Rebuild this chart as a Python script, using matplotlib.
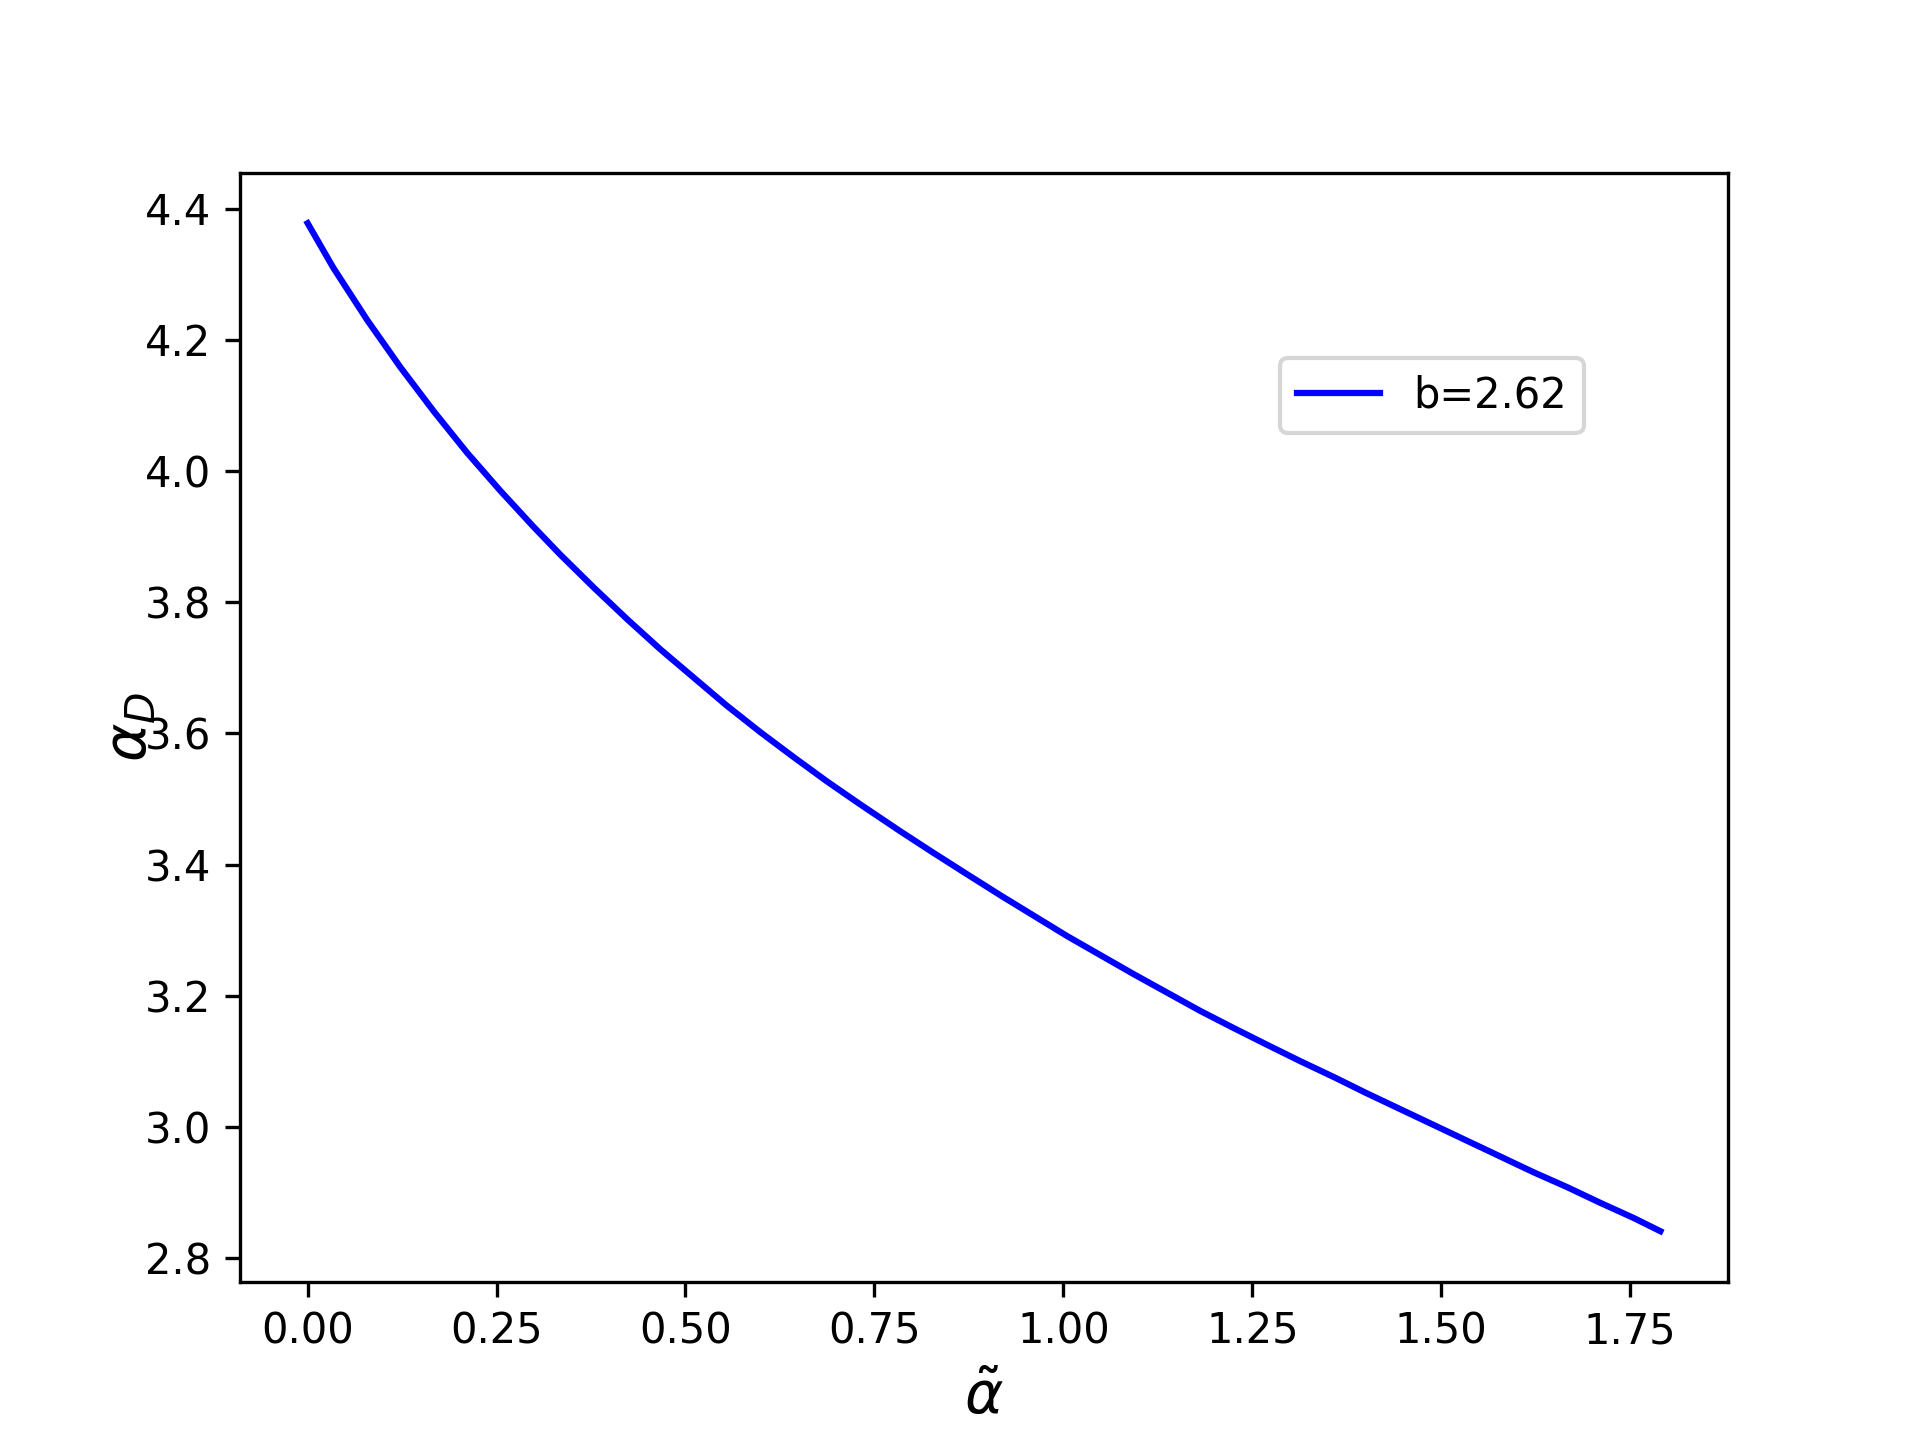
import matplotlib
matplotlib.use("Agg")
import matplotlib.pyplot as plt

# data -----------------------------------------------------
alpha_tilde = [0.000, 0.034, 0.079, 0.123, 0.167, 0.211, 0.255, 0.299, 0.334,
               0.379, 0.423, 0.467, 0.511, 0.555, 0.599, 0.643, 0.687, 0.731,
               0.784, 0.828, 0.873, 0.917, 0.961, 1.005, 1.049, 1.093, 1.137,
               1.181, 1.225, 1.270, 1.314, 1.358, 1.402, 1.446, 1.490, 1.534,
               1.578, 1.622, 1.667, 1.711, 1.755, 1.790]
alpha_D = [4.378, 4.310, 4.230, 4.158, 4.091, 4.028, 3.970, 3.915, 3.873,
           3.822, 3.774, 3.728, 3.685, 3.642, 3.602, 3.564, 3.527, 3.492,
           3.451, 3.418, 3.385, 3.353, 3.322, 3.291, 3.262, 3.233, 3.205,
           3.177, 3.151, 3.125, 3.100, 3.076, 3.051, 3.027, 3.003, 2.979,
           2.955, 2.931, 2.908, 2.884, 2.861, 2.841]
LABEL = "b=2.62"

# plot ----------------------------------------------------
fig = plt.figure(figsize=(6.4, 4.8), dpi=300)
ax = fig.add_subplot(111)
ax.plot(alpha_tilde, alpha_D, color="b", label=LABEL)

ax.set_xlabel(r"$\tilde{\alpha}$", fontsize=14)
ax.set_ylabel(r"$\alpha_D$", fontsize=14)
ax.yaxis.set_label_coords(-0.055, 0.5)   # sits over the tick labels like the original

ax.legend(loc="upper right", bbox_to_anchor=(0.917, 0.852))

plt.savefig("out.png", dpi=300)
